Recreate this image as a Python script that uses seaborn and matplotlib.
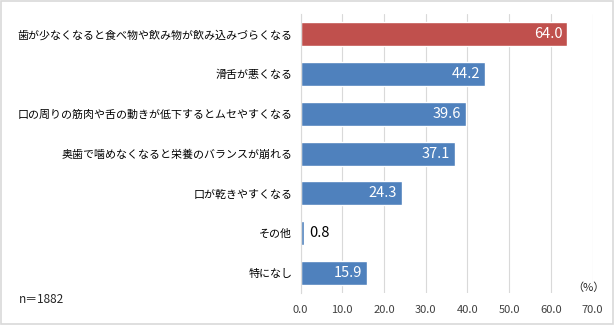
import matplotlib
matplotlib.use("Agg")
import matplotlib.pyplot as plt
import seaborn as sns
import pandas as pd

categories = [
    "歯が少なくなると食べ物や飲み物が飲み込みづらくなる",
    "滑舌が悪くなる",
    "口の周りの筋肉や舌の動きが低下するとムセやすくなる",
    "奥歯で噛めなくなると栄養のバランスが崩れる",
    "口が乾きやすくなる",
    "その他",
    "特になし",
]
values = [64.0, 44.2, 39.6, 37.1, 24.3, 0.8, 15.9]
bar_colors = ["#C0504D", "#4F81BD", "#4F81BD", "#4F81BD", "#4F81BD", "#4F81BD", "#4F81BD"]
xticks = [0, 10, 20, 30, 40, 50, 60, 70]

sns.set_theme(style="white")
plt.rcParams['font.family'] = ['Noto Sans CJK JP', 'DejaVu Sans']

df = pd.DataFrame({"cat": categories, "val": values})

fig = plt.figure(figsize=(6.14, 3.25), dpi=100)
ax = fig.add_axes([0.4895, 0.0985, 0.4755, 0.858])
sns.barplot(data=df, y="cat", x="val", hue="cat", palette=bar_colors,
            legend=False, width=0.6, ax=ax, saturation=1)

ax.set_xlim(0, 70)
ax.set_xticks(xticks)
ax.set_xticklabels([f"{t:.1f}" for t in xticks], fontsize=8, color="#404040")
ax.tick_params(axis="y", labelsize=7.9, length=0, pad=6, labelcolor="black")
ax.tick_params(axis="x", length=0, pad=9)
ax.set_xlabel("")
ax.set_ylabel("")
ax.grid(axis="x", color="#D9D9D9", linewidth=0.8)
ax.set_axisbelow(True)
for s in ["top", "right", "bottom"]:
    ax.spines[s].set_visible(False)
ax.spines["left"].set_color("#D9D9D9")
ax.spines["left"].set_linewidth(0.8)

for i, v in enumerate(values):
    if v > 5:
        ax.text(v - 1.2, i, f"{v:.1f}", ha="right", va="center", color="white", fontsize=10.5)
    else:
        ax.text(v + 1.2, i, f"{v:.1f}", ha="left", va="center", color="black", fontsize=10.5)

fig.text(0.985, 0.115, "（%）", ha="right", va="center", fontsize=8)
fig.text(0.03, 0.077, "n＝1882", ha="left", va="center", fontsize=8.5)

border = plt.Rectangle((0.002, 0.003), 0.996, 0.994, transform=fig.transFigure,
                       fill=False, edgecolor="#D9D9D9", linewidth=1.2)
fig.patches.append(border)

fig.savefig("out.png", dpi=100)
